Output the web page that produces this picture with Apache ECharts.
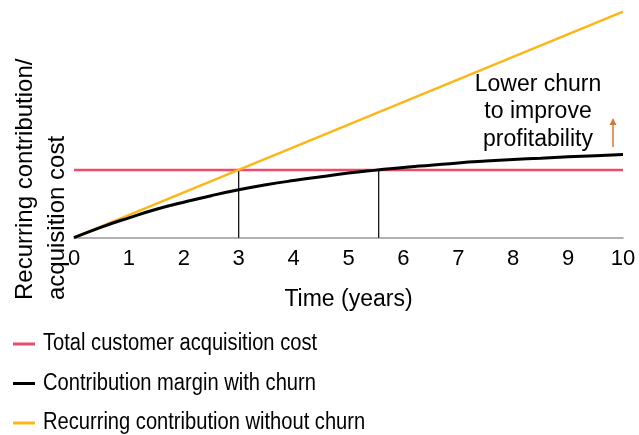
<!DOCTYPE html>
<html><head><meta charset="utf-8">
<script src="https://cdn.jsdelivr.net/npm/echarts@6/dist/echarts.min.js"></script>
<style>html,body{margin:0;padding:0;background:#fff}#c{width:639px;height:435px}</style>
</head><body><div id="c"></div>
<script>
const xTicks = [0,1,2,3,4,5,6,7,8,9,10];
const years = [0,0.5,1,1.5,2,2.5,3,3.5,4,4.5,5,5.5,6,6.5,7,7.5,8,8.5,9,9.5,10];
const withChurn = [0,4.7,8.8,12.6,15.7,18.6,21.2,23.4,25.3,27.0,28.6,29.9,31.1,32.1,33.1,33.9,34.6,35.2,35.8,36.3,36.8];
const withoutChurnX = [0,10];
const withoutChurn = [0,100];
const acqCostX = [0,10];
const acqCost = [30,30];
const breakevens = [3,5.55];
const names = ['Total customer acquisition cost','Contribution margin with churn','Recurring contribution without churn'];
const colors = ['#ee4a6c','#000000','#fbb617'];
const FONT = 'Liberation Sans, Arial, Helvetica, sans-serif';

const chart = echarts.init(document.getElementById('c'));
const series = [
  {name:names[0], type:'line', data:acqCostX.map((x,i)=>[x,acqCost[i]]), symbol:'none', clip:false, z:2,
   lineStyle:{color:colors[0], width:2.5}},
  {name:names[1], type:'line', data:years.map((x,i)=>[x,withChurn[i]]), symbol:'none', smooth:true, clip:false, z:4,
   lineStyle:{color:colors[1], width:3}},
  {name:names[2], type:'line', data:withoutChurnX.map((x,i)=>[x,withoutChurn[i]]), symbol:'none', clip:false, z:3,
   lineStyle:{color:colors[2], width:2.5}}
];
breakevens.forEach(b=>{
  series.push({type:'line', data:[[b,0],[b,acqCost[0]]], symbol:'none', z:1, silent:true,
    lineStyle:{color:'#000', width:1.2}});
});
const legendY = [344, 383.5, 423];
const legendGraphics = [];
names.forEach((n,i)=>{
  legendGraphics.push({type:'rect', shape:{x:13, y:legendY[i]-1.5, width:22, height:3}, style:{fill:colors[i]}});
  legendGraphics.push({type:'text', x:43, y:legendY[i], scaleX:0.875,
    style:{text:n, font:'23px '+FONT, fill:'#000', align:'left', verticalAlign:'middle'}});
});
chart.setOption({
  animation:false,
  grid:{left:74, right:16, top:11.7, bottom:197.3},
  xAxis:{type:'value', min:0, max:10, interval:1,
    name:'Time (years)', nameLocation:'middle', nameGap:50,
    nameTextStyle:{color:'#000', fontSize:23, fontFamily:FONT},
    axisLine:{lineStyle:{color:'#999', width:1.5}}, axisTick:{show:false}, splitLine:{show:false},
    axisLabel:{color:'#000', fontSize:22, fontFamily:FONT, margin:10,
      formatter:v=>xTicks.includes(v)?String(v):''}},
  yAxis:{type:'value', min:0, max:100, show:false},
  graphic:[
    {type:'text', x:25, y:300, rotation:Math.PI/2, style:{text:'Recurring contribution/', font:'24px '+FONT, fill:'#000', align:'left', verticalAlign:'middle'}},
    {type:'text', x:57, y:300, rotation:Math.PI/2, style:{text:'acquisition cost', font:'24px '+FONT, fill:'#000', align:'left', verticalAlign:'middle'}},
    {type:'text', x:538, y:112, style:{text:'Lower churn\nto improve\nprofitability', font:'23px '+FONT, lineHeight:27.5, fill:'#000', align:'center', verticalAlign:'middle'}},
    {type:'line', shape:{x1:613, y1:147, x2:613, y2:124}, style:{stroke:'#d9773a', lineWidth:1.5}},
    {type:'polygon', shape:{points:[[609.5,125],[616.5,125],[613,118]]}, style:{fill:'#d9773a'}}
  ].concat(legendGraphics),
  series
});
</script></body></html>
